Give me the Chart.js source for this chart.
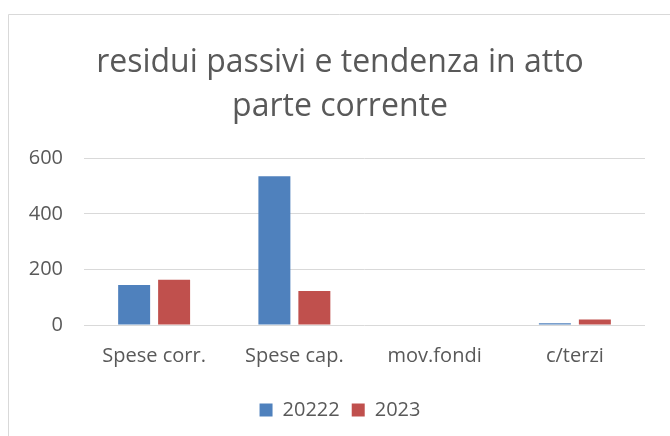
<!DOCTYPE html>
<html>
<head>
<meta charset="utf-8">
<script src="https://cdn.jsdelivr.net/npm/chart.js@4/dist/chart.umd.min.js"></script>
<style>
html,body{margin:0;padding:0;background:#fff;}
canvas{display:block;}
</style>
</head>
<body>
<canvas id="c" width="670" height="436"></canvas>
<script>
const categories = ["Spese corr.", "Spese cap.", "mov.fondi", "c/terzi"];
const seriesNames = ["20222", "2023"];
const values2022 = [144, 535, 0, 6];
const values2023 = [163, 122, 0, 20];
const yTicks = [0, 200, 400, 600];
const titleLines = ["residui passivi e tendenza in atto", "parte corrente"];

const FONT = "'Open Sans', 'Liberation Sans', sans-serif";
const GREY = "#595959";

const borderPlugin = {
  id: 'frame',
  beforeDraw(chart) {
    const ctx = chart.ctx;
    ctx.save();
    ctx.fillStyle = '#fff';
    ctx.fillRect(0, 0, chart.width, chart.height);
    ctx.strokeStyle = '#d9d9d9';
    ctx.lineWidth = 1;
    ctx.beginPath();
    ctx.moveTo(8.5, chart.height);
    ctx.lineTo(8.5, 14.5);
    ctx.lineTo(chart.width, 14.5);
    ctx.stroke();
    ctx.restore();
  }
};

new Chart(document.getElementById('c'), {
  type: 'bar',
  data: {
    labels: categories,
    datasets: [
      { label: seriesNames[0], data: values2022, backgroundColor: '#4F81BD', borderWidth: 0,
        barPercentage: 0.8, categoryPercentage: 0.57 },
      { label: seriesNames[1], data: values2023, backgroundColor: '#C0504D', borderWidth: 0,
        barPercentage: 0.8, categoryPercentage: 0.57 }
    ]
  },
  options: {
    responsive: false,
    animation: false,
    devicePixelRatio: 1,
    layout: { padding: { left: 10, right: 0, top: 0, bottom: 6 } },
    plugins: {
      title: {
        display: true,
        text: titleLines,
        color: GREY,
        font: { family: FONT, size: 32, weight: 'normal', lineHeight: 1.4 },
        padding: { top: 40, bottom: 28.7 }
      },
      legend: {
        display: true,
        position: 'bottom',
        labels: {
          color: GREY,
          font: { family: FONT, size: 20 },
          boxWidth: 13,
          boxHeight: 13,
          padding: 12
        }
      },
      tooltip: { enabled: false }
    },
    scales: {
      x: {
        grid: { display: false },
        border: { display: false },
        afterFit: s => { s.height = 63; },
        ticks: { color: GREY, font: { family: FONT, size: 20 }, padding: 11, maxRotation: 0 }
      },
      y: {
        min: 0, max: 600,
        afterBuildTicks: s => { s.ticks = yTicks.map(v => ({ value: v })); },
        afterFit: s => { s.width = 74; },
        grid: { color: '#d9d9d9', drawTicks: false, lineWidth: 1 },
        border: { display: false },
        ticks: { color: GREY, font: { family: FONT, size: 20 }, padding: 21 }
      },
      yRight: {
        position: 'right',
        display: true,
        afterFit: s => { s.width = 25; },
        grid: { display: false, drawTicks: false },
        border: { display: false },
        ticks: { display: false }
      }
    }
  },
  plugins: [borderPlugin]
});
</script>
</body>
</html>
